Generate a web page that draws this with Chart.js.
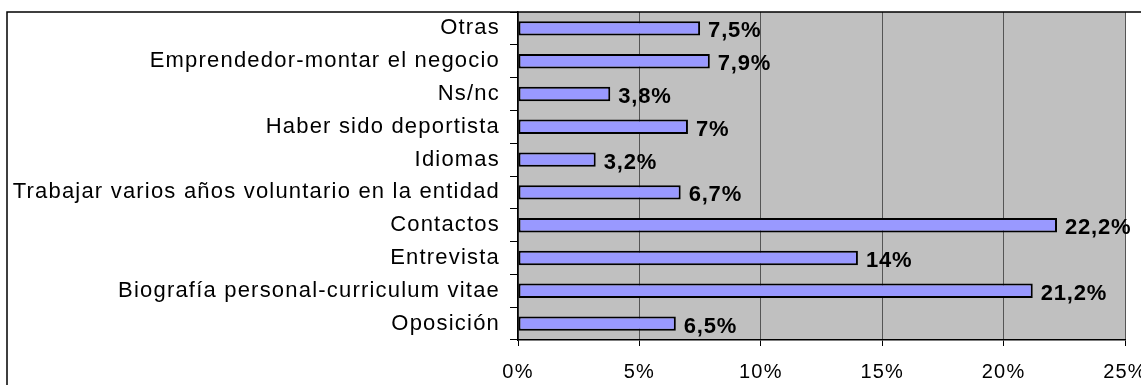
<!DOCTYPE html>
<html>
<head>
<meta charset="utf-8">
<script src="https://cdn.jsdelivr.net/npm/chart.js@4"></script>
<style>
  html, body { margin: 0; padding: 0; background: #fff; }
  #wrap { position: relative; width: 1141px; height: 385px; }
</style>
</head>
<body>
<div id="wrap"><canvas id="chart" width="1141" height="385"></canvas></div>
<script>
const categorias = [
    'Otras',
    'Emprendedor-montar el negocio',
    'Ns/nc',
    'Haber sido deportista',
    'Idiomas',
    'Trabajar varios años voluntario en la entidad',
    'Contactos',
    'Entrevista',
    'Biografía personal-curriculum vitae',
    'Oposición'
];
const porcentajes = [7.5, 7.9, 3.8, 7, 3.2, 6.7, 22.2, 14, 21.2, 6.5];
const ticksX = [0, 5, 10, 15, 20, 25];

const FUENTE = '"Liberation Sans", Arial, sans-serif';

function fmt(v) {
    return String(v).replace('.', ',') + '%';
}

// fondo gris del área de trazado y marco exterior
const fondo = {
    id: 'fondo',
    beforeDraw(chart) {
        const { ctx, chartArea: a } = chart;
        ctx.save();
        ctx.fillStyle = '#c0c0c0';
        ctx.fillRect(a.left, a.top, a.right - a.left, a.bottom - a.top);
        ctx.restore();
        // texto algo espaciado
        ctx.letterSpacing = '1.2px';
    },
    afterDraw(chart) {
        const ctx = chart.ctx;
        ctx.save();
        ctx.strokeStyle = '#000';
        ctx.lineWidth = 1.5;
        ctx.strokeRect(7, 12, 1200, 500);
        ctx.restore();
    }
};

// etiquetas de valor al final de cada barra
const etiquetas = {
    id: 'etiquetas',
    afterDatasetsDraw(chart) {
        const { ctx } = chart;
        const meta = chart.getDatasetMeta(0);
        ctx.save();
        ctx.letterSpacing = '0.8px';
        ctx.font = 'bold 22px ' + FUENTE;
        ctx.fillStyle = '#000';
        ctx.textAlign = 'left';
        ctx.textBaseline = 'middle';
        meta.data.forEach((bar, i) => {
            ctx.fillText(fmt(porcentajes[i]), bar.x + 8, bar.y + 3);
        });
        ctx.restore();
    }
};

const ctx = document.getElementById('chart').getContext('2d');
new Chart(ctx, {
    type: 'bar',
    data: {
        labels: categorias,
        datasets: [{
            data: porcentajes,
            backgroundColor: '#9999ff',
            borderColor: '#000',
            borderWidth: 2,
            borderSkipped: false,
            barPercentage: 0.44,
            categoryPercentage: 1
        }]
    },
    options: {
        indexAxis: 'y',
        responsive: false,
        animation: false,
        layout: { padding: { left: 0, top: 12, right: 16, bottom: 0 } },
        plugins: {
            legend: { display: false },
            tooltip: { enabled: false }
        },
        scales: {
            x: {
                min: 0,
                max: 25,
                afterBuildTicks(scale) {
                    scale.ticks = ticksX.map(v => ({ value: v }));
                },
                afterFit(scale) {
                    scale.height = 45;
                    scale.paddingLeft = 0;
                    scale.paddingRight = 0;
                },
                ticks: {
                    color: '#000',
                    font: { family: FUENTE, size: 20 },
                    padding: 14,
                    callback: v => v + '%'
                },
                grid: {
                    color: '#555',
                    tickColor: '#000',
                    tickLength: 6,
                    lineWidth: 1
                },
                border: { color: '#000', width: 1.5 }
            },
            y: {
                afterFit(scale) {
                    scale.width = 518;
                    scale.paddingTop = 0;
                    scale.paddingBottom = 0;
                },
                ticks: {
                    color: '#000',
                    font: { family: FUENTE, size: 22 },
                    padding: 10
                },
                grid: {
                    drawOnChartArea: false,
                    tickColor: '#000',
                    tickLength: 8,
                    offset: true
                },
                border: { color: '#000', width: 1.5 }
            }
        }
    },
    plugins: [fondo, etiquetas]
});
</script>
</body>
</html>
